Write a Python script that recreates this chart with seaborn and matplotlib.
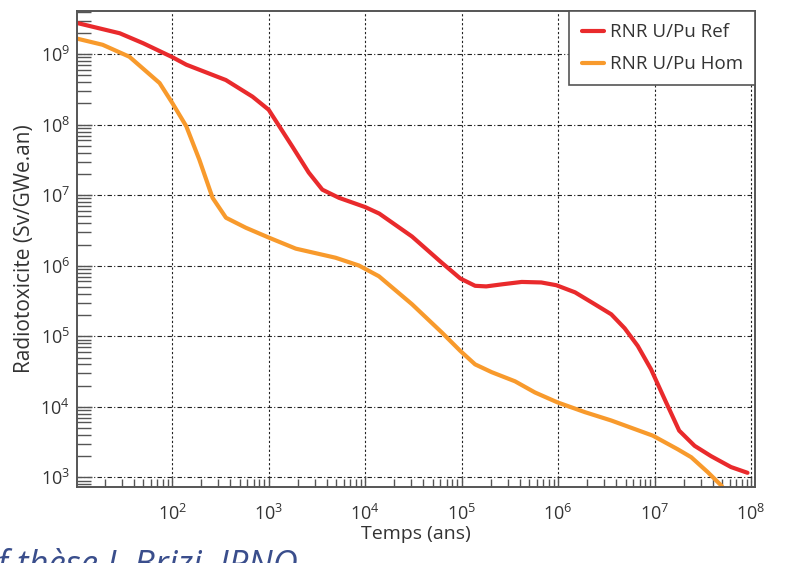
import numpy as np
import pandas as pd
import matplotlib
matplotlib.use("Agg")
import matplotlib.pyplot as plt
from matplotlib.ticker import LogLocator, NullFormatter, LogFormatterMathtext
import seaborn as sns

# temps (ans) / radiotoxicite (Sv/GWe.an)
ref_t = [10, 28.6, 50, 100, 140, 360, 680, 1000, 1760, 2600, 3600, 5350, 1.0e4, 1.4e4,
         3.06e4, 6.25e4, 9.7e4, 1.38e5, 1.8e5, 2.6e5, 4.2e5, 6.7e5, 9.6e5, 1.5e6, 2.4e6,
         3.56e6, 4.9e6, 6.7e6, 9.2e6, 1.27e7, 1.8e7, 2.6e7, 3.85e7, 6.2e7, 9.2e7]
ref_v = [2.8e9, 1.98e9, 1.43e9, 9.1e8, 7.1e8, 4.3e8, 2.5e8, 1.63e8, 4.9e7, 2.1e7, 1.2e7,
         9.2e6, 6.8e6, 5.5e6, 2.6e6, 1.1e6, 6.6e5, 5.2e5, 5.1e5, 5.45e5, 5.9e5, 5.8e5,
         5.3e5, 4.2e5, 2.85e5, 2.05e5, 1.3e5, 7.3e4, 3.4e4, 1.29e4, 4.6e3, 2.8e3, 2.0e3,
         1.4e3, 1.16e3]

hom_t = [10, 19, 36, 74, 101, 140, 191, 262, 361, 580, 1010, 1910, 4940, 8600, 1.39e4,
         3.06e4, 6.25e4, 9.7e4, 1.38e5, 2.05e5, 3.58e5, 5.75e5, 9.8e5, 1.9e6, 3.56e6,
         9.6e6, 1.74e7, 2.4e7, 3.55e7, 4.9e7, 5.6e7]
hom_v = [1.68e9, 1.36e9, 9.2e8, 3.9e8, 2.0e8, 9.5e7, 3.2e7, 9.2e6, 4.8e6, 3.46e6, 2.5e6,
         1.75e6, 1.3e6, 1.01e6, 7.1e5, 2.85e5, 1.13e5, 6.2e4, 4.0e4, 3.1e4, 2.3e4, 1.6e4,
         1.16e4, 8.4e3, 6.4e3, 3.9e3, 2.5e3, 1.93e3, 1.19e3, 7.7e2, 6.0e2]

labels = ["RNR U/Pu Ref", "RNR U/Pu Hom"]
colors = ["#E92A2C", "#F89A2C"]

df = pd.concat([
    pd.DataFrame({"t": ref_t, "v": ref_v, "serie": labels[0]}),
    pd.DataFrame({"t": hom_t, "v": hom_v, "serie": labels[1]}),
])

sns.set_theme(style="ticks")
plt.rcParams["font.family"] = ["Open Sans", "DejaVu Sans"]
plt.rcParams["mathtext.fontset"] = "custom"
plt.rcParams["mathtext.rm"] = "Open Sans"
plt.rcParams["mathtext.it"] = "Open Sans:italic"

fig = plt.figure(figsize=(7.96, 5.63), dpi=100)
ax = fig.add_axes([0.0967, 0.135, 0.8518, 0.8455])

sns.lineplot(data=df, x="t", y="v", hue="serie", palette=dict(zip(labels, colors)),
             estimator=None, sort=False, linewidth=3, ax=ax)

ax.set_xscale("log")
ax.set_yscale("log")
ax.set_xlim(10.3, 1.1e8)
ax.set_ylim(730, 4.1e9)

ax.xaxis.set_major_locator(LogLocator(base=10, numticks=20))
ax.yaxis.set_major_locator(LogLocator(base=10, numticks=20))
ax.xaxis.set_minor_locator(LogLocator(base=10, subs=np.arange(2, 10), numticks=20))
ax.yaxis.set_minor_locator(LogLocator(base=10, subs=np.arange(2, 10), numticks=20))
ax.xaxis.set_major_formatter(LogFormatterMathtext())
ax.yaxis.set_major_formatter(LogFormatterMathtext())
ax.xaxis.set_minor_formatter(NullFormatter())
ax.yaxis.set_minor_formatter(NullFormatter())

ax.grid(True, which="major", axis="x", color="#222222", linestyle=(0, (2, 2)), linewidth=0.8)
ax.grid(True, which="major", axis="y", color="#222222", linestyle=(0, (4, 2, 1, 2)), linewidth=0.8)

ax.tick_params(axis="x", which="major", direction="in", length=8, width=1, color="#555555",
               labelsize=13, pad=12, labelcolor="#333333")
ax.tick_params(axis="x", which="minor", direction="in", length=6, width=1, color="#555555")
ax.tick_params(axis="y", which="major", direction="in", length=11, width=1, color="#555555",
               labelsize=13, pad=5, labelcolor="#333333")
ax.tick_params(axis="y", which="minor", direction="in", length=10, width=1, color="#555555")

for s in ax.spines.values():
    s.set_color("#555555")
    s.set_linewidth(1.4)

ax.set_xlabel("Temps (ans)", fontsize=14, color="#333333", labelpad=1)
ax.set_ylabel("Radiotoxicite (Sv/GWe.an)", fontsize=15, color="#333333", labelpad=4)

leg = ax.legend(loc="upper right", borderaxespad=0, fontsize=13.5, frameon=True,
                fancybox=False, framealpha=1, edgecolor="#555555", handlelength=1.2,
                borderpad=0.65, labelspacing=0.75, handletextpad=0.3)
leg.get_frame().set_linewidth(1.2)
for t in leg.get_texts():
    t.set_color("#333333")

fig.text(-0.050, -0.021, "Réf thèse J. Brizi, IPNO", fontsize=25, style="italic",
         color="#3A4E8C", va="baseline", ha="left")

fig.savefig("out.png", dpi=100)
